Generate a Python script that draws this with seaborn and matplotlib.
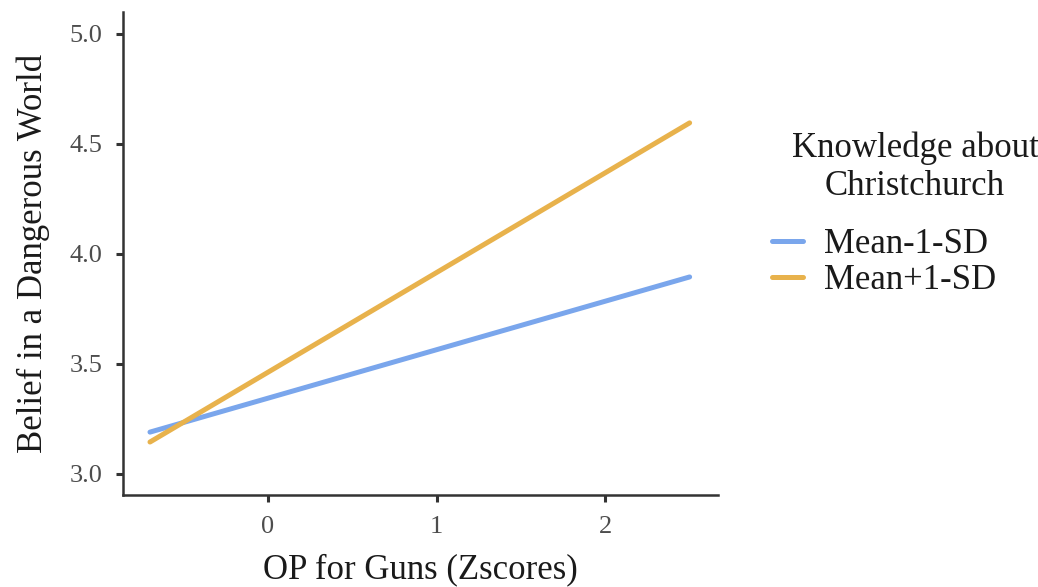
import matplotlib
matplotlib.use("Agg")
import matplotlib.pyplot as plt
import seaborn as sns
import pandas as pd

# simple slopes: two endpoints per group
op_guns = [-0.70, 2.50]
low_knowledge = [3.19, 3.895]
high_knowledge = [3.145, 4.595]
groups = ["Mean-1-SD", "Mean+1-SD"]
colors = ["#7aa6ec", "#e8b24c"]

df = pd.DataFrame({
    "x": op_guns + op_guns,
    "y": low_knowledge + high_knowledge,
    "group": [groups[0]] * 2 + [groups[1]] * 2,
})

sns.set_theme(style="ticks")
plt.rcParams["font.family"] = ["Liberation Serif", "DejaVu Serif"]

fig = plt.figure(figsize=(10.38, 5.87), dpi=100)
ax = fig.add_axes([0.1185, 0.157, 0.5735, 0.823])

sns.lineplot(data=df, x="x", y="y", hue="group", palette=colors,
             linewidth=3.6, ax=ax)

ax.set_xlim(-0.86, 2.67)
ax.set_ylim(2.905, 5.10)
ax.set_xticks([0, 1, 2])
ax.set_yticks([3.0, 3.5, 4.0, 4.5, 5.0])
ax.set_yticklabels(["3.0", "3.5", "4.0", "4.5", "5.0"])
ax.tick_params(labelsize=19, colors="#333333", labelcolor="#4d4d4d",
               length=5, width=2.2, pad=10)
for s in ["left", "bottom"]:
    ax.spines[s].set_linewidth(1.8)
    ax.spines[s].set_color("#333333")
sns.despine(ax=ax)

ax.set_xlabel("OP for Guns (Zscores)", fontsize=25, color="#1a1a1a", labelpad=11)
ax.set_ylabel("Belief in a Dangerous World", fontsize=25, color="#1a1a1a", labelpad=14)

# legend title drawn separately so it can sit centred above the keys
handles, labels = ax.get_legend_handles_labels()
ax.get_legend().remove()
fig.text(0.8815, 0.7147, "Knowledge about\nChristchurch", ha="center", va="center",
         fontsize=25, color="#1a1a1a", linespacing=1.2)
leg = fig.legend(handles, labels, loc="upper left",
                 bbox_to_anchor=(772 / 1038, 1 - 228 / 587),
                 frameon=False, fontsize=25, handlelength=0.9,
                 handletextpad=0.6, labelspacing=0.1,
                 borderpad=0, borderaxespad=0)
for t in leg.get_texts():
    t.set_color("#1a1a1a")
for h in leg.legend_handles:
    h.set_linewidth(3.6)

fig.savefig("out.png", dpi=100)
